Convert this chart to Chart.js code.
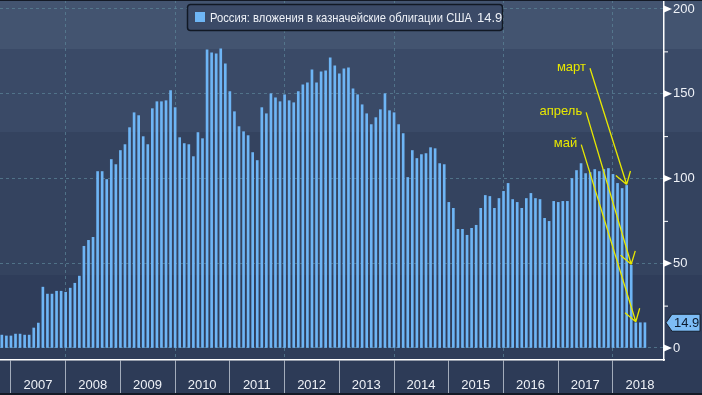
<!DOCTYPE html>
<html>
<head>
<meta charset="utf-8">
<script src="https://cdn.jsdelivr.net/npm/chart.js@4"></script>
<style>
  html, body { margin: 0; padding: 0; background: #2c3a57; }
  canvas { display: block; }
</style>
</head>
<body>
<canvas id="grafico" width="702" height="395"></canvas>
<script>
// serie mensual, primer dato: octubre 2006 (miles de millones USD)
const inicioAnio = 2006;
const inicioMes = 10;
const valores = [
    7.6, 7.1, 7.1, 8.2, 8.2, 7.6, 7.6, 11.8, 14.7, 35.9, 31.8, 31.8,
    33.5, 33.5, 32.9, 35.3, 38.2, 42.4, 60.0, 63.5, 65.3, 104.1, 104.1, 99.4,
    111.2, 108.2, 116.5, 120.0, 130.0, 138.8, 137.1, 124.7, 120.0, 141.2, 145.3, 145.3,
    145.9, 151.8, 141.8, 124.1, 120.6, 120.0, 112.9, 127.1, 123.5, 175.9, 174.1, 173.5,
    176.5, 167.6, 151.2, 139.4, 130.6, 127.6, 125.3, 115.3, 110.6, 141.8, 138.2, 150.0,
    147.6, 145.3, 149.4, 145.9, 144.7, 151.2, 155.3, 156.5, 164.1, 156.5, 162.9, 163.5,
    171.2, 166.5, 161.8, 164.7, 165.3, 152.9, 149.4, 143.5, 138.2, 131.8, 135.9, 140.6,
    150.0, 140.0, 138.8, 131.8, 126.5, 100.6, 116.5, 111.8, 114.1, 114.7, 118.2, 117.6,
    108.8, 108.2, 85.9, 82.4, 70.0, 70.0, 66.5, 70.6, 72.4, 82.4, 90.0, 89.4,
    82.4, 88.2, 92.4, 97.1, 87.6, 85.9, 82.4, 88.2, 91.2, 88.2, 87.6, 76.5,
    74.7, 86.5, 85.9, 86.5, 86.5, 100.0, 104.7, 108.8, 102.9, 103.5, 105.3, 104.1,
    105.3, 105.9, 102.4, 97.1, 94.1, 95.9, 48.8, 14.9, 14.9, 14.9
];
const anios = ['2007', '2008', '2009', '2010', '2011', '2012', '2013', '2014', '2015', '2016', '2017', '2018'];
const marcasY = [0, 25, 50, 75, 100, 125, 150, 175, 200];
const nombreSerie = 'Россия: вложения в казначейские облигации США';

// notas amarillas: mes al que apuntan y punto de arranque de la flecha (año decimal, valor)
const notas = ['март', 'апрель', 'май'];
const notasMes = ['2018-03', '2018-04', '2018-05'];
const notasDesdeX = [2017.58, 2017.51, 2017.42];
const notasDesdeY = [165, 139, 120];

// cada dato se dibuja al final de su mes
const meses = [];
const puntos = [];
for (let i = 0; i < valores.length; i++) {
    const a = inicioAnio + Math.floor((inicioMes - 1 + i) / 12);
    const m = (inicioMes - 1 + i) % 12 + 1;
    meses.push(a + '-' + String(m).padStart(2, '0'));
    puntos.push({ x: a + m / 12, y: valores[i] });
}

const azulBarra = '#6eb5f5';
const colorGrid = 'rgba(90, 130, 150, 0.75)';
const fuente = 'Liberation Sans, Arial, sans-serif';

const fondoPlugin = {
    id: 'fondo',
    beforeDraw(chart) {
        const ctx = chart.ctx;
        const w = chart.width;
        const bandas = [
            [0, 49, '#435470'],
            [49, 132, '#3a4a67'],
            [132, 275, '#34435f'],
            [275, 360, '#2f3d5a'],
            [360, 395, '#2d3b57']
        ];
        ctx.save();
        bandas.forEach(b => {
            ctx.fillStyle = b[2];
            ctx.fillRect(0, b[0], w, b[1] - b[0]);
        });
        ctx.restore();
    },
    afterDraw(chart) {
        const ctx = chart.ctx;
        const x = chart.scales.x;
        const y = chart.scales.y;
        const der = chart.chartArea.right;
        ctx.save();

        // marcas del eje derecho
        ctx.fillStyle = '#ffffff';
        ctx.strokeStyle = '#ffffff';
        ctx.lineWidth = 1;
        marcasY.forEach(v => {
            const py = y.getPixelForValue(v);
            if (v % 50 === 0) {
                ctx.beginPath();
                ctx.moveTo(der, py - 3.5);
                ctx.lineTo(der + 8, py);
                ctx.lineTo(der, py + 3.5);
                ctx.closePath();
                ctx.fill();
            } else {
                ctx.beginPath();
                ctx.moveTo(der, py + 0.5);
                ctx.lineTo(der + 4, py + 0.5);
                ctx.stroke();
            }
        });

        // etiqueta del último valor
        const ultimo = valores[valores.length - 1];
        const py = y.getPixelForValue(ultimo);
        ctx.beginPath();
        ctx.moveTo(der + 2, py);
        ctx.lineTo(der + 8, py - 8.5);
        ctx.lineTo(der + 36, py - 8.5);
        ctx.lineTo(der + 36, py + 8.5);
        ctx.lineTo(der + 8, py + 8.5);
        ctx.closePath();
        ctx.fillStyle = '#7dbcf5';
        ctx.fill();
        ctx.strokeStyle = '#16202f';
        ctx.stroke();
        ctx.fillStyle = '#0c1a2e';
        ctx.font = '13px ' + fuente;
        ctx.textAlign = 'left';
        ctx.textBaseline = 'middle';
        ctx.fillText(ultimo.toFixed(1), der + 10, py + 0.5);

        // leyenda: texto a 13px comprimido al ancho del original
        ctx.fillStyle = '#3b4a67';
        ctx.strokeStyle = '#111824';
        ctx.lineWidth = 1.5;
        ctx.beginPath();
        ctx.roundRect(187.5, 4.5, 315, 26, 3);
        ctx.fill();
        ctx.stroke();
        ctx.fillStyle = azulBarra;
        ctx.fillRect(195, 12, 10, 10);
        ctx.fillStyle = '#eef1f7';
        ctx.font = '13px ' + fuente;
        ctx.textAlign = 'left';
        ctx.textBaseline = 'middle';
        const escala = Math.min(1, 262 / ctx.measureText(nombreSerie).width);
        ctx.save();
        ctx.translate(210, 18);
        ctx.scale(escala, 1);
        ctx.fillText(nombreSerie, 0, 0);
        ctx.restore();
        ctx.fillText(ultimo.toFixed(1), 477, 18);

        // notas con flechas
        ctx.strokeStyle = '#e8e800';
        ctx.fillStyle = '#e8e800';
        ctx.lineWidth = 1.3;
        ctx.font = '13px ' + fuente;
        notas.forEach((txt, i) => {
            const k = meses.indexOf(notasMes[i]);
            const x2 = x.getPixelForValue(puntos[k].x);
            const y2 = y.getPixelForValue(puntos[k].y) - 1;
            const x1 = x.getPixelForValue(notasDesdeX[i]);
            const y1 = y.getPixelForValue(notasDesdeY[i]);
            ctx.beginPath();
            ctx.moveTo(x1, y1);
            ctx.lineTo(x2, y2);
            const ang = Math.atan2(y1 - y2, x1 - x2);
            [-0.58, 0.58].forEach(d => {
                ctx.moveTo(x2, y2);
                ctx.lineTo(x2 + 14 * Math.cos(ang + d), y2 + 14 * Math.sin(ang + d));
            });
            ctx.stroke();
            ctx.textAlign = 'right';
            ctx.textBaseline = 'middle';
            ctx.fillText(txt, x1 - 4, y1 - 1);
        });

        // bordes oscuros
        ctx.fillStyle = '#141a26';
        ctx.fillRect(0, 0, chart.width, 1);
        ctx.fillRect(0, chart.height - 2, chart.width, 2);
        ctx.restore();
    }
};

const ctx = document.getElementById('grafico').getContext('2d');
const chart = new Chart(ctx, {
    type: 'bar',
    data: {
        datasets: [{
            label: nombreSerie,
            data: puntos,
            backgroundColor: azulBarra,
            borderWidth: 0,
            barThickness: 2
        }]
    },
    options: {
        responsive: false,
        animation: false,
        devicePixelRatio: 1,
        layout: { padding: 0 },
        plugins: {
            legend: { display: false },
            tooltip: { enabled: false }
        },
        scales: {
            x: {
                type: 'linear',
                offset: false,
                min: 2006.8,
                max: 2018.932,
                afterBuildTicks: (s) => { s.ticks = anios.map(a => ({ value: Number(a) })); },
                afterFit: (s) => { s.height = 35; s.paddingLeft = 0; s.paddingRight = 0; },
                ticks: {
                    callback: (v, i) => anios[i],
                    color: '#eef1f7',
                    font: { family: fuente, size: 13 },
                    labelOffset: 27,
                    padding: -17,
                    maxRotation: 0,
                    autoSkip: false
                },
                grid: {
                    offset: false,
                    color: (c) => (c.tick && c.tick.value % 2 === 0) ? colorGrid : 'rgba(0,0,0,0)',
                    tickColor: '#a3acbb',
                    tickLength: 35,
                    tickBorderDash: [],
                    lineWidth: 1
                },
                border: { color: '#ffffff', width: 1.5, dash: [3, 3] }
            },
            y: {
                position: 'right',
                min: -7.08,
                max: 205.3,
                afterBuildTicks: (s) => { s.ticks = marcasY.map(v => ({ value: v })); },
                afterFit: (s) => { s.width = 38; s.paddingTop = 0; s.paddingBottom = 0; },
                ticks: {
                    callback: (v) => (v % 50 === 0 ? String(v) : ''),
                    color: '#eef1f7',
                    font: { family: fuente, size: 13 },
                    padding: 9
                },
                grid: {
                    color: (c) => (c.tick && c.tick.value % 50 === 0) ? colorGrid : 'rgba(0,0,0,0)',
                    drawTicks: false,
                    lineWidth: 1
                },
                border: { color: '#ffffff', width: 1.5, dash: [3, 3] }
            }
        }
    },
    plugins: [fondoPlugin]
});
</script>
</body>
</html>
